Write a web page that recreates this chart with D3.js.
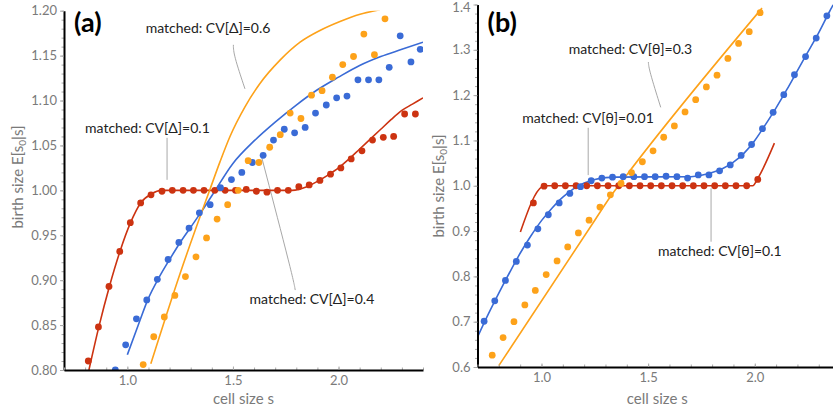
<!DOCTYPE html>
<html><head><meta charset="utf-8">
<script src="https://cdn.jsdelivr.net/npm/d3@7"></script>
<style>body{margin:0;background:#fff} text{font-family:Lato,"DejaVu Sans",sans-serif}</style>
</head><body><svg id="c" width="833" height="414"></svg>
<script>
// ---------- DATA ----------
// Panel (a) simulated points
const aRedPts = [[0.815,0.810],[0.863,0.848],[0.913,0.893],[0.964,0.932],[1.014,0.964],[1.063,0.986],[1.112,0.995],[1.164,0.999],[1.213,1.000],[1.264,1.000],[1.313,1.000],[1.363,1.000],[1.414,1.000],[1.463,1.000],[1.512,1.000],[1.563,1.001],[1.611,0.999],[1.661,0.998],[1.711,1.000],[1.762,1.000],[1.812,1.004],[1.861,1.006],[1.912,1.011],[1.962,1.018],[2.011,1.025],[2.060,1.035],[2.111,1.044],[2.161,1.056],[2.212,1.059],[2.261,1.060],[2.313,1.085],[2.364,1.085]];
const aBluePts = [[0.943,0.800],[0.992,0.828],[1.043,0.857],[1.092,0.878],[1.142,0.901],[1.193,0.923],[1.244,0.942],[1.292,0.958],[1.341,0.975],[1.392,0.984],[1.441,1.003],[1.493,1.012],[1.542,1.020],[1.592,1.031],[1.643,1.039],[1.692,1.056],[1.743,1.068],[1.792,1.064],[1.842,1.070],[1.891,1.086],[1.942,1.095],[1.991,1.103],[2.040,1.105],[2.092,1.123],[2.142,1.123],[2.191,1.123],[2.240,1.137],[2.292,1.172],[2.343,1.143],[2.387,1.157]];
const aOrangePts = [[1.075,0.806],[1.125,0.837],[1.175,0.859],[1.225,0.883],[1.275,0.904],[1.325,0.926],[1.375,0.947],[1.425,0.968],[1.475,0.984],[1.525,1.000],[1.572,1.033],[1.623,1.031],[1.674,1.048],[1.724,1.062],[1.771,1.086],[1.822,1.080],[1.872,1.106],[1.922,1.111],[1.971,1.126],[2.020,1.140],[2.071,1.149],[2.120,1.174],[2.170,1.151],[2.220,1.191]];
// Panel (a) matched curves
const aRedLine = [[0.818,0.800],[0.865,0.848],[0.915,0.893],[0.965,0.932],[1.015,0.964],[1.063,0.986],[1.114,0.996],[1.160,1.000],[1.780,1.000],[1.850,1.004],[1.900,1.010],[1.950,1.017],[2.000,1.025],[2.050,1.035],[2.100,1.046],[2.150,1.057],[2.200,1.068],[2.250,1.079],[2.300,1.089],[2.350,1.096],[2.400,1.103]];
const aBlueLine = [[1.000,0.817],[1.050,0.849],[1.100,0.880],[1.150,0.903],[1.200,0.923],[1.250,0.942],[1.300,0.959],[1.350,0.976],[1.400,0.994],[1.500,1.030],[1.600,1.055],[1.700,1.076],[1.800,1.095],[1.900,1.112],[2.000,1.126],[2.100,1.139],[2.200,1.149],[2.300,1.157],[2.400,1.165]];
const aOrangeLine = [[1.111,0.807],[1.249,0.907],[1.391,1.001],[1.439,1.032],[1.486,1.060],[1.557,1.093],[1.628,1.119],[1.723,1.145],[1.818,1.165],[1.912,1.178],[2.007,1.188],[2.102,1.196],[2.196,1.201]];

// Panel (b) simulated points
const bRedPts = [[0.962,0.962],[1.012,0.999],[1.062,1.000],[1.112,1.000],[1.162,1.000],[1.212,1.000],[1.262,1.000],[1.312,1.000],[1.362,1.000],[1.412,1.000],[1.462,1.000],[1.512,1.000],[1.562,1.000],[1.612,1.000],[1.662,1.000],[1.712,1.000],[1.762,1.000],[1.812,1.000],[1.862,1.000],[1.912,1.000],[1.962,1.000],[2.014,1.014]];
const bBluePts = [[0.731,0.701],[0.781,0.746],[0.831,0.791],[0.882,0.833],[0.934,0.869],[0.983,0.905],[1.032,0.936],[1.083,0.962],[1.133,0.983],[1.183,0.998],[1.233,1.011],[1.283,1.017],[1.333,1.019],[1.383,1.020],[1.433,1.020],[1.483,1.020],[1.533,1.020],[1.584,1.021],[1.635,1.020],[1.685,1.017],[1.735,1.024],[1.785,1.024],[1.835,1.033],[1.885,1.046],[1.936,1.067],[1.985,1.091],[2.036,1.126],[2.086,1.162],[2.136,1.201],[2.186,1.245],[2.238,1.285],[2.288,1.326],[2.338,1.375]];
const bOrangePts = [[0.769,0.626],[0.820,0.665],[0.871,0.700],[0.922,0.737],[0.971,0.769],[1.022,0.804],[1.073,0.834],[1.123,0.865],[1.173,0.896],[1.223,0.924],[1.274,0.953],[1.323,0.980],[1.373,1.005],[1.422,1.029],[1.473,1.053],[1.523,1.077],[1.573,1.107],[1.623,1.132],[1.673,1.163],[1.723,1.190],[1.773,1.218],[1.823,1.244],[1.874,1.281],[1.924,1.314],[1.974,1.340],[2.025,1.382]];
// Panel (b) matched curves
const bRedLine = [[0.901,0.898],[1.003,0.998],[1.015,1.000],[1.990,1.000],[2.016,1.018],[2.092,1.094]];
const bBlueLine = [[0.700,0.666],[0.750,0.716],[0.800,0.763],[0.850,0.808],[0.900,0.851],[0.950,0.889],[1.000,0.923],[1.050,0.951],[1.100,0.975],[1.150,0.993],[1.200,1.006],[1.250,1.014],[1.300,1.018],[1.350,1.019],[1.700,1.020],[1.750,1.023],[1.800,1.029],[1.850,1.038],[1.900,1.052],[1.950,1.072],[2.000,1.100],[2.050,1.135],[2.100,1.172],[2.150,1.212],[2.200,1.254],[2.250,1.296],[2.300,1.338],[2.350,1.384],[2.380,1.410]];
const bOrangeLine = [[0.800,0.603],[1.250,0.924],[1.322,0.975],[1.400,1.024],[2.034,1.392]];

// Tick values / labels
const xMajor = [1.0, 1.5, 2.0];
const aYMajor = [0.80,0.85,0.90,0.95,1.00,1.05,1.10,1.15,1.20];
const bYMajor = [0.6,0.7,0.8,0.9,1.0,1.1,1.2,1.3,1.4];

// Annotation texts (anchored in data units)
const aNotes = [
  {text:"matched: CV[\u0394]=0.6", at:[1.382,1.175], leader:[[1.502,1.162],[1.503,1.151],[1.557,1.113]]},
  {text:"matched: CV[\u0394]=0.1", at:[1.095,1.064], leader:[[1.188,1.0585],[1.188,1.0117]]},
  {text:"matched: CV[\u0394]=0.4", at:[1.874,0.8735], leader:[[1.795,0.889],[1.784,0.9036],[1.636,1.037]]}
];
const bNotes = [
  {text:"matched: CV[\u03b8]=0.3", at:[1.417,1.291], leader:[[1.501,1.273],[1.504,1.256],[1.559,1.173]]},
  {text:"matched: CV[\u03b8]=0.01", at:[1.218,1.1385], leader:[[1.219,1.128],[1.219,1.0235]]},
  {text:"matched: CV[\u03b8]=0.1", at:[1.836,0.845], leader:[[1.795,0.8765],[1.795,0.9944]]}
];

// ---------- DRAWING ----------
const C = {red:"#cc3311", blue:"#3a6bd6", orange:"#fda21a"};
const svg = d3.select('#c');
const defs = svg.append('defs');

function panel(cfg){
  const x = d3.scaleLinear().domain([0.7,2.4]).range(cfg.xr);
  const y = d3.scaleLinear().domain(cfg.yd).range(cfg.yr);
  const g = svg.append('g');
  const id = 'clip'+cfg.id;
  defs.append('clipPath').attr('id',id).append('rect')
    .attr('x',cfg.xr[0]).attr('y',cfg.yr[1])
    .attr('width',cfg.clipR-cfg.xr[0]).attr('height',cfg.yr[0]-cfg.yr[1]);

  // annotations
  cfg.notes.forEach(n=>{
    g.append('path').attr('d', d3.line().x(d=>x(d[0])).y(d=>y(d[1])).curve(d3.curveBasis)(n.leader))
      .attr('fill','none').attr('stroke','#a8a8a8').attr('stroke-width',1);
    g.append('text').attr('x',x(n.at[0])).attr('y',y(n.at[1])).attr('text-anchor','middle')
      .attr('font-size',14).attr('fill','#222').text(n.text);
  });

  const plot = g.append('g').attr('clip-path',`url(#${id})`);
  const line = d3.line().x(d=>x(d[0])).y(d=>y(d[1])).curve(d3.curveMonotoneX);
  cfg.lines.forEach(s=>{
    plot.append('path').datum(s.data).attr('d',line).attr('fill','none')
      .attr('stroke',s.color).attr('stroke-width',1.6);
  });
  cfg.dots.forEach(s=>{
    plot.append('g').selectAll('circle').data(s.data).join('circle')
      .attr('cx',d=>x(d[0])).attr('cy',d=>y(d[1])).attr('r',3.4).attr('fill',s.color);
  });

  // axes
  const x0 = cfg.xr[0], yb = cfg.yr[0];
  const minorY = d3.range(cfg.yd[0], cfg.yd[1]+1e-9, cfg.yMinor);
  const minorX = d3.range(0.7, 2.4+1e-9, 0.1);
  const ay2 = g.append('g').attr('transform',`translate(${x0},0)`)
    .call(d3.axisLeft(y).tickValues(minorY).tickFormat('').tickSize(2.5).tickSizeOuter(0));
  ay2.select('.domain').remove();
  const ay = g.append('g').attr('transform',`translate(${x0},0)`)
    .call(d3.axisLeft(y).tickValues(cfg.yMajor).tickFormat(d3.format(cfg.yFmt)).tickSize(4).tickPadding(3).tickSizeOuter(0));
  const ax2 = g.append('g').attr('transform',`translate(0,${yb})`)
    .call(d3.axisBottom(x).tickValues(minorX).tickFormat('').tickSize(-2.5).tickSizeOuter(0));
  ax2.select('.domain').remove();
  const ax = g.append('g').attr('transform',`translate(0,${yb})`)
    .call(d3.axisBottom(x).tickValues(xMajor).tickFormat(d3.format('.1f')).tickSize(-3.5).tickPadding(6).tickSizeOuter(0));
  [ay,ax,ay2,ax2].forEach(a=>{
    a.selectAll('.tick line').attr('stroke','#aaa');
    a.selectAll('.tick text').attr('fill','#7a7a7a').attr('font-size',13).attr('font-family','Lato');
  });
  // keep the topmost label inside the picture
  ay.selectAll('.tick text').filter(d=>y(d)<8).attr('dy','0.5em');
  ay.select('.domain').attr('stroke','#000').attr('stroke-width',2);
  ax.select('.domain').attr('stroke','#000').attr('stroke-width',2);

  // axis titles
  g.append('text').attr('x',(cfg.xr[0]+Math.min(cfg.xr[1],cfg.clipR))/2+cfg.xtOff).attr('y',404)
    .attr('text-anchor','middle').attr('font-size',15).attr('fill','#7a7a7a').text('cell size s');
  const yt = g.append('text').attr('transform',`translate(${cfg.ytX},${cfg.ytY}) rotate(-90)`)
    .attr('text-anchor','middle').attr('font-size',15).attr('fill','#7a7a7a');
  yt.append('tspan').text('birth size E[s');
  yt.append('tspan').attr('font-size',10).attr('dy',3).text('0');
  yt.append('tspan').attr('dy',-3).text('|s]');

  g.append('text').attr('x',x0+10).attr('y',32).attr('font-size',27)
    .attr('font-weight','bold').attr('fill','#000').text(cfg.label);
}

panel({id:'a', xr:[64,423], clipR:423, yd:[0.8,1.2], yr:[370,10.7], yMajor:aYMajor, yMinor:0.01, yFmt:'.2f',
  lines:[{data:aRedLine,color:C.red},{data:aBlueLine,color:C.blue},{data:aOrangeLine,color:C.orange}],
  dots:[{data:aRedPts,color:C.red},{data:aBluePts,color:C.blue},{data:aOrangePts,color:C.orange}],
  notes:aNotes, label:'(a)', ytX:23, ytY:177, xtOff:0});
panel({id:'b', xr:[477.5,840.1], clipR:833, yd:[0.6,1.4], yr:[367,4.5], yMajor:bYMajor, yMinor:0.02, yFmt:'.1f',
  lines:[{data:bRedLine,color:C.red},{data:bBlueLine,color:C.blue},{data:bOrangeLine,color:C.orange}],
  dots:[{data:bRedPts,color:C.red},{data:bBluePts,color:C.blue},{data:bOrangePts,color:C.orange}],
  notes:bNotes, label:'(b)', ytX:444, ytY:186, xtOff:2});
</script></body></html>
